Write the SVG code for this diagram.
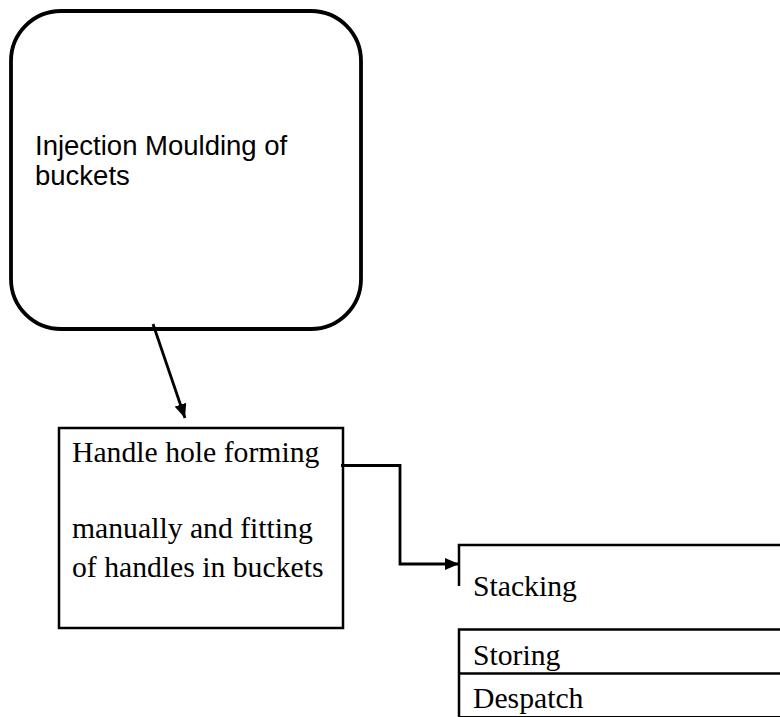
<svg xmlns="http://www.w3.org/2000/svg" width="780" height="717" viewBox="0 0 780 717">
<style>
.sans{font-family:"Liberation Sans",Arial,sans-serif;font-size:27.5px;fill:#000}
.serif{font-family:"Liberation Serif","Times New Roman",serif;font-size:29.7px;fill:#000}
.box{fill:none;stroke:#000;stroke-width:2.5}
.conn{fill:none;stroke:#000;stroke-width:2.8}
</style>
<defs>
<marker id="ah" viewBox="0 0 14 12" refX="14" refY="6" markerWidth="14" markerHeight="12" markerUnits="userSpaceOnUse" orient="auto">
<path d="M0,0 L14,6 L0,12 Z" fill="#000"/>
</marker>
</defs>
<rect width="780" height="717" fill="#fff"/>
<g id="injection">
<rect x="11" y="11" width="350" height="318" rx="50" ry="50" fill="none" stroke="#000" stroke-width="3.8"/>
<text class="sans" x="35" y="155">Injection Moulding of</text>
<text class="sans" x="35" y="185">buckets</text>
</g>
<g id="handle">
<rect class="box" x="59" y="428" width="284" height="200"/>
<text class="serif" x="72" y="462">Handle hole forming</text>
<text class="serif" x="72" y="538">manually and fitting</text>
<text class="serif" x="72" y="577">of handles in buckets</text>
</g>
<g id="stacking">
<path class="box" d="M459,586 V545 H780"/>
<text class="serif" x="473" y="596">Stacking</text>
</g>
<g id="storing">
<path class="box" d="M780,629.5 H459 V717"/>
<path class="box" d="M459,673.5 H780"/>
<line x1="459" y1="716.5" x2="780" y2="716.5" stroke="#000" stroke-width="1"/>
<text class="serif" x="473" y="665">Storing</text>
</g>
<g id="despatch">
<text class="serif" x="473" y="708">Despatch</text>
</g>
<g id="connectors">
<line class="conn" x1="153" y1="324" x2="185" y2="418" marker-end="url(#ah)"/>
<path class="conn" d="M341,465.5 H400 V564 H459" marker-end="url(#ah)"/>
</g>
</svg>
